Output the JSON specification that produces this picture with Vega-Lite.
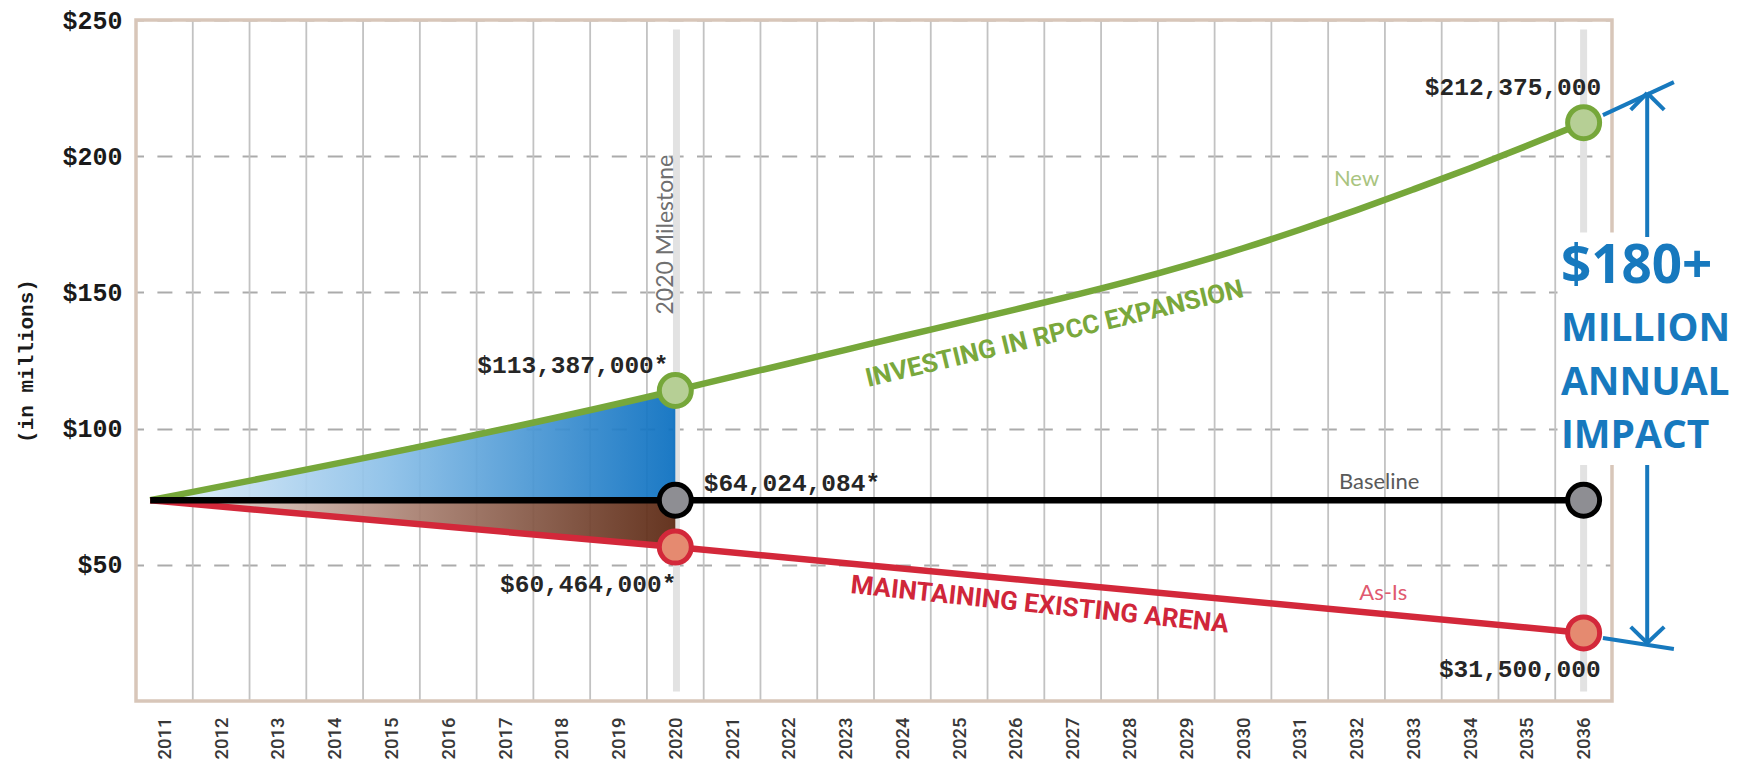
{
  "$schema": "https://vega.github.io/schema/vega-lite/v6.json",
  "width": 1476,
  "height": 681,
  "autosize": {"type": "none"},
  "padding": {"left": 136, "top": 20, "right": 131, "bottom": 58},
  "background": "white",
  "config": {"view": {"stroke": null}},
  "datasets": {
    "grid": [
      {"g": 2011.5}, {"g": 2012.5}, {"g": 2013.5}, {"g": 2014.5}, {"g": 2015.5},
      {"g": 2016.5}, {"g": 2017.5}, {"g": 2018.5}, {"g": 2019.5}, {"g": 2020.5},
      {"g": 2021.5}, {"g": 2022.5}, {"g": 2023.5}, {"g": 2024.5}, {"g": 2025.5},
      {"g": 2026.5}, {"g": 2027.5}, {"g": 2028.5}, {"g": 2029.5}, {"g": 2030.5},
      {"g": 2031.5}, {"g": 2032.5}, {"g": 2033.5}, {"g": 2034.5}, {"g": 2035.5}
    ],
    "series": [
      {"series": "New", "year": 2010.75, "v": 73.7},
      {"series": "New", "year": 2020, "v": 114},
      {"series": "New", "year": 2021, "v": 119},
      {"series": "New", "year": 2022, "v": 123.9},
      {"series": "New", "year": 2023, "v": 128.9},
      {"series": "New", "year": 2024, "v": 133.9},
      {"series": "New", "year": 2025, "v": 138.8},
      {"series": "New", "year": 2026, "v": 143.8},
      {"series": "New", "year": 2027, "v": 148.8},
      {"series": "New", "year": 2028, "v": 154.1},
      {"series": "New", "year": 2029, "v": 159.9},
      {"series": "New", "year": 2030, "v": 166.2},
      {"series": "New", "year": 2031, "v": 173},
      {"series": "New", "year": 2032, "v": 180.2},
      {"series": "New", "year": 2033, "v": 187.8},
      {"series": "New", "year": 2034, "v": 195.6},
      {"series": "New", "year": 2035, "v": 203.8},
      {"series": "New", "year": 2036, "v": 212.3},
      {"series": "As-Is", "year": 2010.75, "v": 73.7},
      {"series": "As-Is", "year": 2020, "v": 56.5},
      {"series": "As-Is", "year": 2036, "v": 25},
      {"series": "Baseline", "year": 2010.75, "v": 73.7},
      {"series": "Baseline", "year": 2036, "v": 73.7}
    ],
    "points": [
      {"series": "New", "year": 2020, "v": 114},
      {"series": "New", "year": 2036, "v": 212.3},
      {"series": "Baseline", "year": 2020, "v": 73.7},
      {"series": "Baseline", "year": 2036, "v": 73.7},
      {"series": "As-Is", "year": 2020, "v": 56.5},
      {"series": "As-Is", "year": 2036, "v": 25}
    ],
    "arrow": [
      {"x": 2037.12, "y": 223.2, "x2": 2037.12, "y2": 170.3},
      {"x": 2037.12, "y": 86.6, "x2": 2037.12, "y2": 21.3},
      {"x": 2036.83, "y": 217, "x2": 2037.12, "y2": 223.2},
      {"x": 2037.42, "y": 217, "x2": 2037.12, "y2": 223.2},
      {"x": 2036.83, "y": 27.2, "x2": 2037.12, "y2": 21.3},
      {"x": 2037.42, "y": 27.2, "x2": 2037.12, "y2": 21.3},
      {"x": 2036.34, "y": 215.1, "x2": 2037.59, "y2": 227.2},
      {"x": 2036.34, "y": 23.1, "x2": 2037.59, "y2": 19.1}
    ]
  },
  "layer": [
    {
      "data": {"name": "grid"},
      "mark": {"type": "rule", "color": "#c2c2c2", "strokeWidth": 1.8},
      "encoding": {
        "x": {
          "field": "g", "type": "quantitative", "title": null,
          "scale": {"domain": [2010.5, 2036.5], "nice": false, "zero": false},
          "axis": {
            "values": [2011, 2012, 2013, 2014, 2015, 2016, 2017, 2018, 2019, 2020, 2021, 2022, 2023, 2024, 2025, 2026, 2027, 2028, 2029, 2030, 2031, 2032, 2033, 2034, 2035, 2036],
            "format": "d", "labelAngle": 270, "labelAlign": "right", "labelBaseline": "middle",
            "labelPadding": 16, "ticks": false, "domain": false, "grid": false,
            "labelFont": "Roboto", "labelFontSize": 18.5, "labelFontWeight": 500, "labelColor": "#383838",
            "labelOverlap": false, "labelFlush": false, "title": null
          }
        },
        "y": {
          "datum": 0, "type": "quantitative", "title": "(in millions)",
          "scale": {"domain": [0, 250], "nice": false, "zero": false},
          "axis": {
            "values": [50, 100, 150, 200, 250],
            "labelExpr": "'$' + datum.value",
            "grid": true, "gridDash": [15, 13.4], "gridDashOffset": 7.5, "gridColor": "#ababab", "gridWidth": 2,
            "ticks": false, "domain": false, "labelPadding": 14,
            "labelFont": "Liberation Mono", "labelFontWeight": "bold", "labelFontSize": 25, "labelColor": "#1a1a1a",
            "title": "(in millions)", "titleFont": "Liberation Mono", "titleFontWeight": "bold",
            "titleFontSize": 21, "titleColor": "#1a1a1a", "titlePadding": 25
          }
        },
        "y2": {"datum": 250}
      }
    },
    {
      "data": {"values": [{"m": 2020.02}, {"m": 2036}]},
      "mark": {"type": "rule", "color": "#e2e2e2", "strokeWidth": 7},
      "encoding": {
        "x": {"field": "m", "type": "quantitative"},
        "y": {"datum": 3.5, "type": "quantitative"},
        "y2": {"datum": 246.5}
      }
    },
    {
      "data": {"values": [{}]},
      "mark": {"type": "rect", "fill": null, "fillOpacity": 0, "stroke": "#d8c6b9", "strokeWidth": 3.5},
      "encoding": {
        "x": {"datum": 2010.5, "type": "quantitative"},
        "x2": {"datum": 2036.5},
        "y": {"datum": 0, "type": "quantitative"},
        "y2": {"datum": 250}
      }
    },
    {
      "data": {"name": "series"},
      "transform": [{"filter": "datum.series == 'New' && datum.year <= 2020"}],
      "mark": {
        "type": "area", "opacity": 0.93,
        "color": {"gradient": "linear", "x1": 0, "y1": 0, "x2": 1, "y2": 0,
          "stops": [{"offset": 0, "color": "#e6f1fa"}, {"offset": 0.45, "color": "#8cc0e8"}, {"offset": 1, "color": "#0a6fc0"}]}
      },
      "encoding": {
        "x": {"field": "year", "type": "quantitative"},
        "y": {"field": "v", "type": "quantitative"},
        "y2": {"datum": 73.7}
      }
    },
    {
      "data": {"name": "series"},
      "transform": [{"filter": "datum.series == 'As-Is' && datum.year <= 2020"}],
      "mark": {
        "type": "area", "opacity": 0.93,
        "color": {"gradient": "linear", "x1": 0, "y1": 0, "x2": 1, "y2": 0,
          "stops": [{"offset": 0, "color": "#efe4e0"}, {"offset": 0.5, "color": "#a98172"}, {"offset": 1, "color": "#5a2610"}]}
      },
      "encoding": {
        "x": {"field": "year", "type": "quantitative"},
        "y": {"field": "v", "type": "quantitative"},
        "y2": {"datum": 73.7}
      }
    },
    {
      "data": {"name": "series"},
      "mark": {"type": "line", "interpolate": "monotone", "strokeWidth": 6.5},
      "encoding": {
        "x": {"field": "year", "type": "quantitative"},
        "y": {"field": "v", "type": "quantitative"},
        "stroke": {"field": "series", "type": "nominal", "legend": null,
          "scale": {"domain": ["As-Is", "New", "Baseline"], "range": ["#d3283a", "#76a73a", "#000000"]}},
        "order": {"field": "year"}
      }
    },
    {
      "data": {"name": "points"},
      "mark": {"type": "point", "shape": "circle", "filled": false, "size": 1024, "strokeWidth": 5, "opacity": 1},
      "encoding": {
        "x": {"field": "year", "type": "quantitative"},
        "y": {"field": "v", "type": "quantitative"},
        "stroke": {"field": "series", "type": "nominal", "legend": null},
        "fill": {"field": "series", "type": "nominal", "legend": null,
          "scale": {"domain": ["As-Is", "New", "Baseline"], "range": ["#e58a70", "#b6cf95", "#8e8e93"]}}
      }
    },
    {
      "data": {"values": [{}]},
      "mark": {"type": "rect", "fill": "white"},
      "encoding": {
        "x": {"datum": 2035.54, "type": "quantitative"},
        "x2": {"datum": 2039.6},
        "y": {"datum": 86.6, "type": "quantitative"},
        "y2": {"datum": 172}
      }
    },
    {
      "data": {"name": "arrow"},
      "mark": {"type": "rule", "color": "#1779be", "strokeWidth": 4},
      "encoding": {
        "x": {"field": "x", "type": "quantitative"},
        "y": {"field": "y", "type": "quantitative"},
        "x2": {"field": "x2"},
        "y2": {"field": "y2"}
      }
    },
    {
      "data": {"values": [
        {"t": "$113,387,000*", "x": 2019.88, "y": 123},
        {"t": "$60,464,000*", "x": 2020.02, "y": 42.6},
        {"t": "$212,375,000", "x": 2036.31, "y": 225},
        {"t": "$31,500,000", "x": 2036.3, "y": 11.2}
      ]},
      "mark": {"type": "text", "align": "right", "baseline": "middle", "font": "Liberation Mono", "fontWeight": "bold", "fontSize": 24.5, "color": "#262626"},
      "encoding": {
        "x": {"field": "x", "type": "quantitative"},
        "y": {"field": "y", "type": "quantitative"},
        "text": {"field": "t"}
      }
    },
    {
      "data": {"values": [{"t": "$64,024,084*", "x": 2020.5, "y": 79.8}]},
      "mark": {"type": "text", "align": "left", "baseline": "middle", "font": "Liberation Mono", "fontWeight": "bold", "fontSize": 24.5, "color": "#262626"},
      "encoding": {
        "x": {"field": "x", "type": "quantitative"},
        "y": {"field": "y", "type": "quantitative"},
        "text": {"field": "t"}
      }
    },
    {
      "data": {"values": [{"t": "2020 Milestone", "x": 2019.83, "y": 171.2}]},
      "mark": {"type": "text", "align": "center", "baseline": "middle", "angle": 270, "font": "Lato", "fontSize": 23, "color": "#707070"},
      "encoding": {
        "x": {"field": "x", "type": "quantitative"},
        "y": {"field": "y", "type": "quantitative"},
        "text": {"field": "t"}
      }
    },
    {
      "data": {"values": [{"t": "New", "x": 2032.0, "y": 191.6}]},
      "mark": {"type": "text", "align": "center", "baseline": "middle", "font": "Lato", "fontSize": 22, "color": "#a9c47f"},
      "encoding": {
        "x": {"field": "x", "type": "quantitative"},
        "y": {"field": "y", "type": "quantitative"},
        "text": {"field": "t"}
      }
    },
    {
      "data": {"values": [{"t": "Baseline", "x": 2032.4, "y": 80.4}]},
      "mark": {"type": "text", "align": "center", "baseline": "middle", "font": "Lato", "fontSize": 22, "color": "#5a5a5a"},
      "encoding": {
        "x": {"field": "x", "type": "quantitative"},
        "y": {"field": "y", "type": "quantitative"},
        "text": {"field": "t"}
      }
    },
    {
      "data": {"values": [{"t": "As-Is", "x": 2032.47, "y": 39.6}]},
      "mark": {"type": "text", "align": "center", "baseline": "middle", "font": "Lato", "fontSize": 22, "color": "#e05a70"},
      "encoding": {
        "x": {"field": "x", "type": "quantitative"},
        "y": {"field": "y", "type": "quantitative"},
        "text": {"field": "t"}
      }
    },
    {
      "data": {"values": [{"t": "INVESTING IN RPCC EXPANSION", "x": 2026.68, "y": 134.7}]},
      "mark": {"type": "text", "align": "center", "baseline": "middle", "angle": -13.5, "font": "Roboto", "fontWeight": "bold", "fontSize": 26, "color": "#7aa83c"},
      "encoding": {
        "x": {"field": "x", "type": "quantitative"},
        "y": {"field": "y", "type": "quantitative"},
        "text": {"field": "t"}
      }
    },
    {
      "data": {"values": [{"t": "MAINTAINING EXISTING ARENA", "x": 2026.42, "y": 35.3}]},
      "mark": {"type": "text", "align": "center", "baseline": "middle", "angle": 6, "font": "Roboto", "fontWeight": "bold", "fontSize": 26, "color": "#d0263a"},
      "encoding": {
        "x": {"field": "x", "type": "quantitative"},
        "y": {"field": "y", "type": "quantitative"},
        "text": {"field": "t"}
      }
    },
    {
      "data": {"values": [{"t": "$180+", "x": 2035.6, "y": 159.2}]},
      "mark": {"type": "text", "align": "left", "baseline": "middle", "font": "Open Sans", "fontWeight": "bold", "fontSize": 53, "color": "#1779be"},
      "encoding": {
        "x": {"field": "x", "type": "quantitative"},
        "y": {"field": "y", "type": "quantitative"},
        "text": {"field": "t"}
      }
    },
    {
      "data": {"values": [
        {"t": "MILLION", "x": 2035.6, "y": 136.6},
        {"t": "ANNUAL", "x": 2035.6, "y": 116.9},
        {"t": "IMPACT", "x": 2035.6, "y": 97.3}
      ]},
      "mark": {"type": "text", "align": "left", "baseline": "middle", "font": "Open Sans", "fontWeight": "bold", "fontSize": 39, "color": "#1779be"},
      "encoding": {
        "x": {"field": "x", "type": "quantitative"},
        "y": {"field": "y", "type": "quantitative"},
        "text": {"field": "t"}
      }
    }
  ]
}
